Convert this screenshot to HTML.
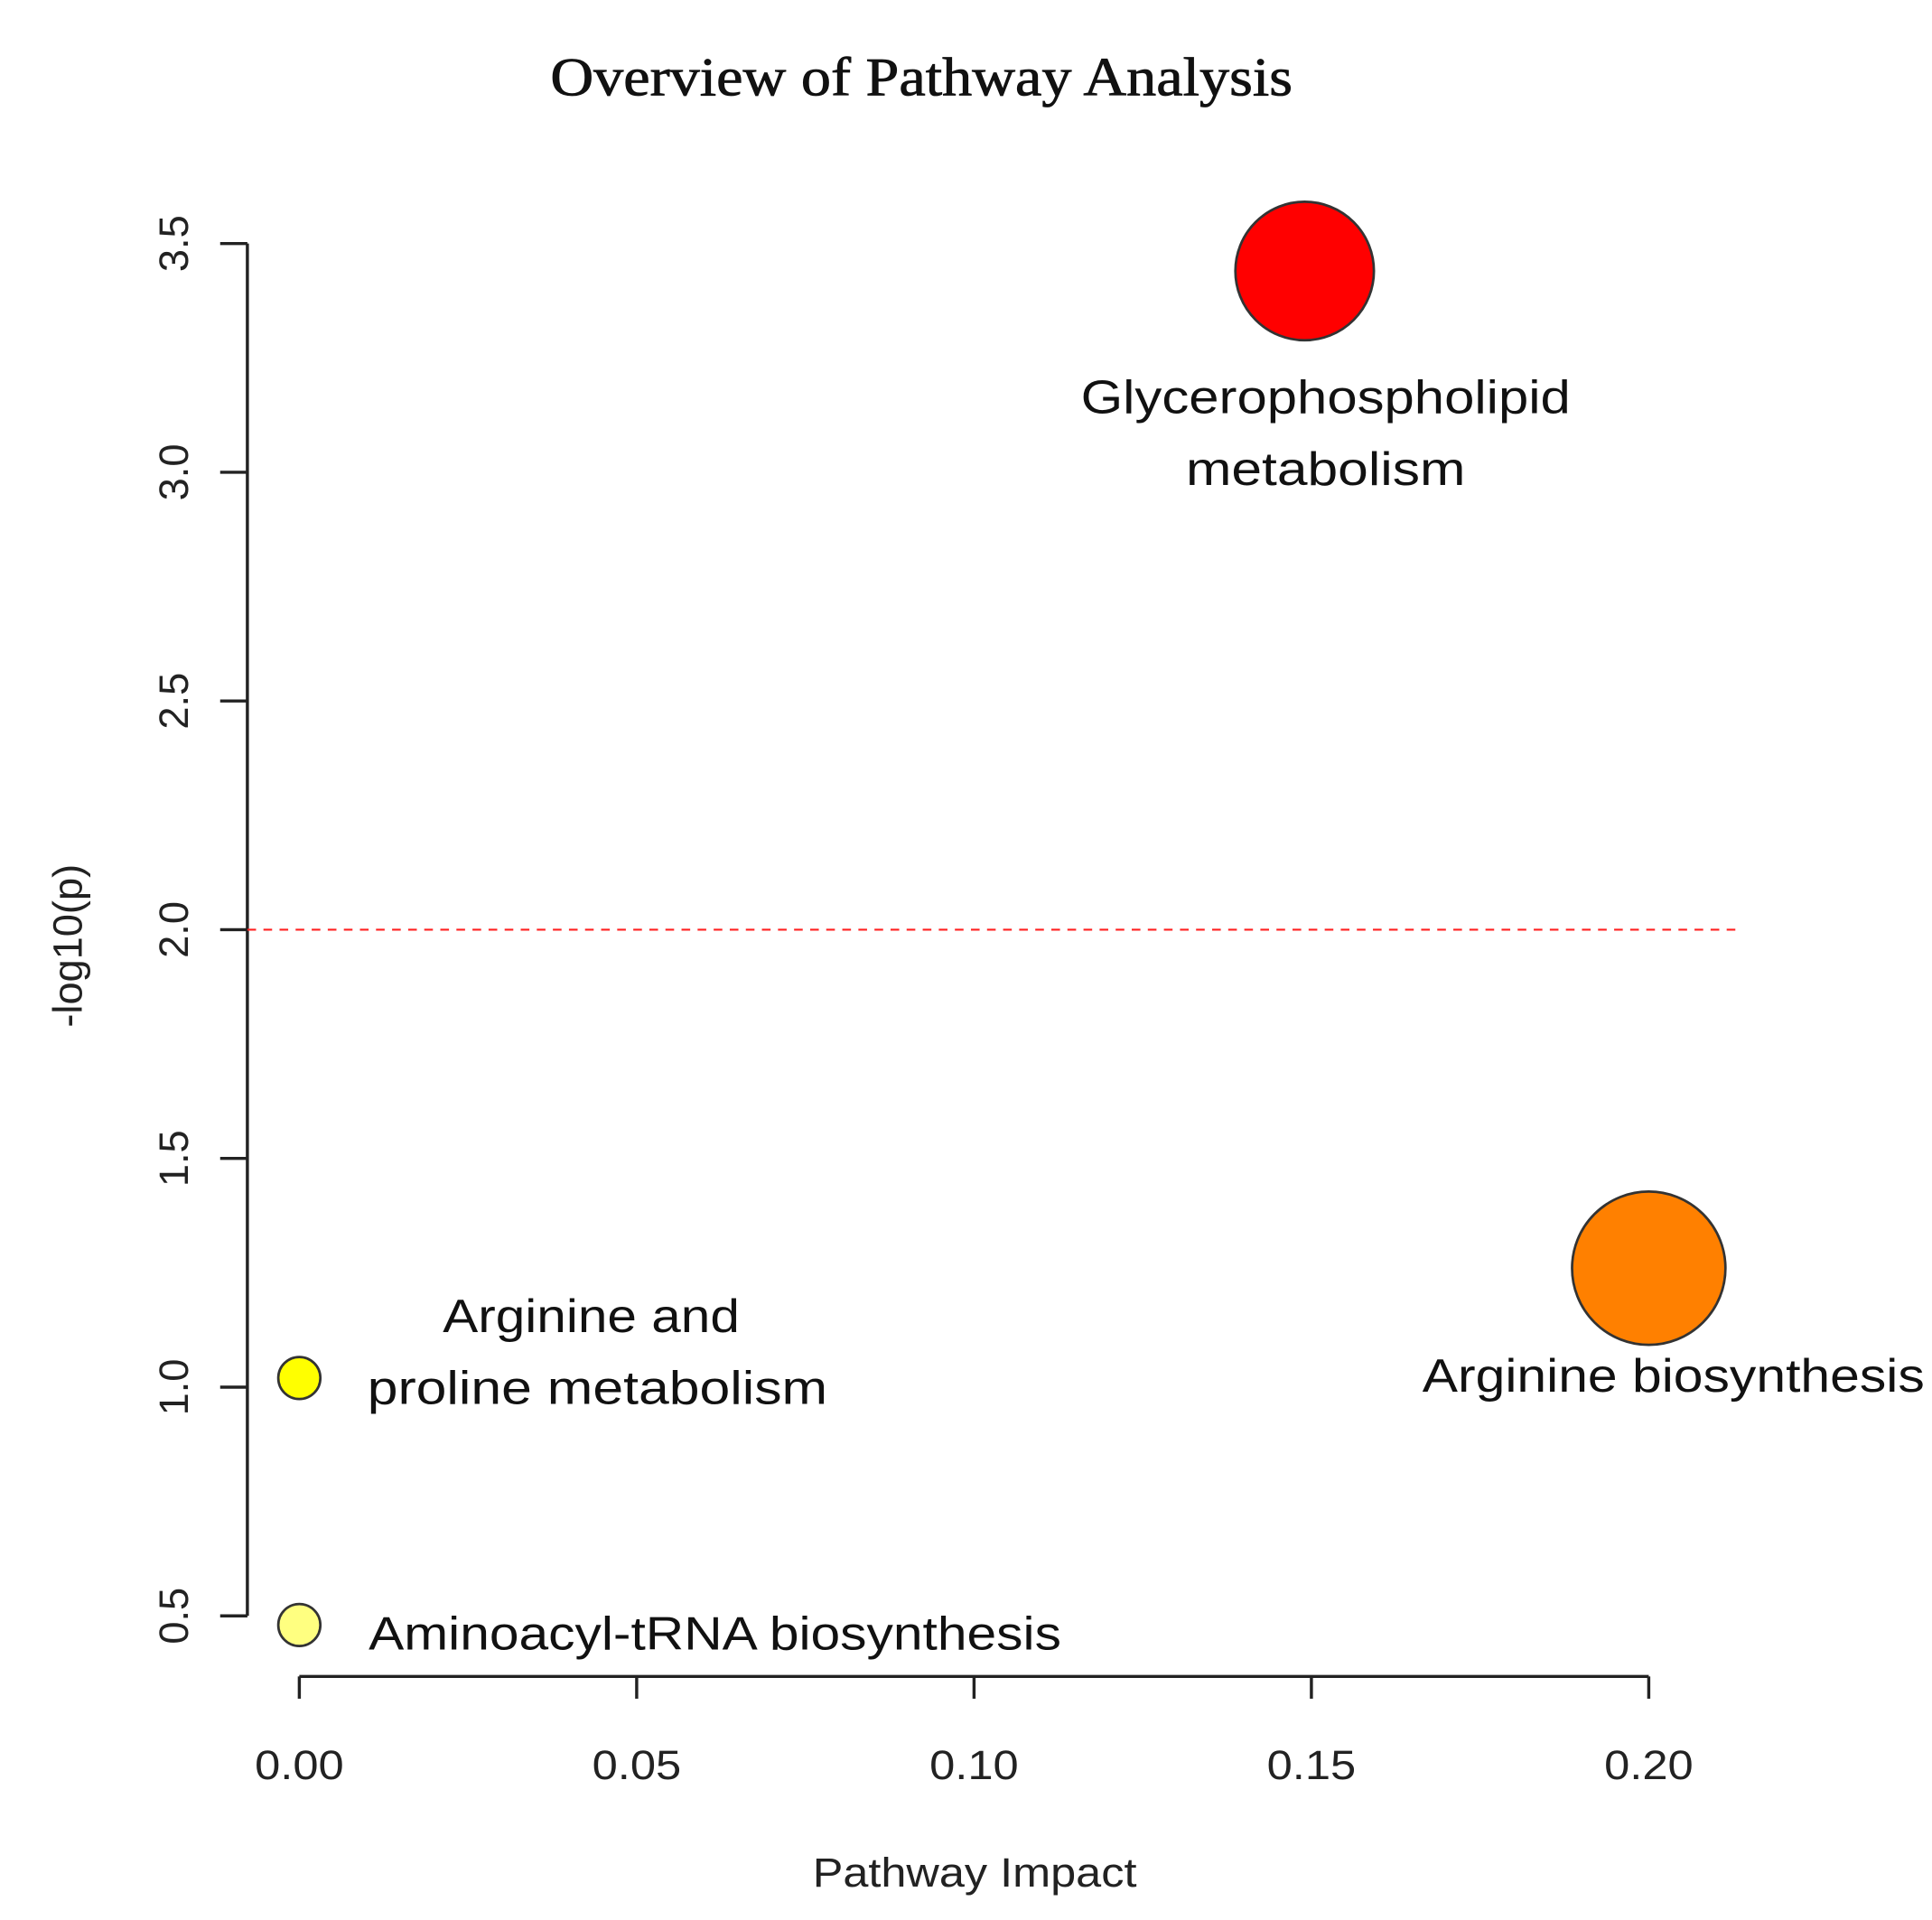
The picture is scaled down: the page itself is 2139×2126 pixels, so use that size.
<!DOCTYPE html>
<html><head><meta charset="utf-8"><style>
html,body{margin:0;padding:0;background:#fff;}
svg{display:block;}
</style></head><body>
<svg id="chart" width="2139" height="2126" viewBox="0 0 1562 1553" preserveAspectRatio="none" xmlns="http://www.w3.org/2000/svg">
<rect width="1562" height="1553" fill="#fff"/>
<text x="745" y="77" text-anchor="middle" font-family="Liberation Serif, serif" font-size="44" fill="#111" stroke="#111" stroke-width="0.6" textLength="600" lengthAdjust="spacingAndGlyphs">Overview of Pathway Analysis</text>
<text x="788" y="1526" text-anchor="middle" font-family="Liberation Sans, sans-serif" font-size="33" fill="#222" textLength="262" lengthAdjust="spacingAndGlyphs">Pathway Impact</text>
<text transform="translate(66,765) rotate(-90)" text-anchor="middle" font-family="Liberation Sans, sans-serif" font-size="33" fill="#222">-log10(p)</text>
<g id="axes"></g>
<g id="marks"></g>
</svg>
<script>
const pathways = ["Glycerophospholipid metabolism","Arginine biosynthesis","Arginine and proline metabolism","Aminoacyl-tRNA biosynthesis"];
const impactValues = [0.149, 0.200, 0.000, 0.000];
const logPValues = [3.44, 1.26, 1.02, 0.48];
const radiusValues = [56, 62, 17, 17];
const fillColors = ["#ff0000","#ff8000","#ffff00","#ffff80"];
const xTicks = [0.00, 0.05, 0.10, 0.15, 0.20];
const xTickLabels = ["0.00","0.05","0.10","0.15","0.20"];
const yTicks = [0.5, 1.0, 1.5, 2.0, 2.5, 3.0, 3.5];
const yTickLabels = ["0.5","1.0","1.5","2.0","2.5","3.0","3.5"];
const threshold = [2.0];

const NS="http://www.w3.org/2000/svg";
function X(v){return 242+(v-0)*(1333-242)/0.2;}
function Y(v){return 1307-(v-0.5)*(1307-197)/3.0;}
function mk(tag,attrs,parent,text){const e=document.createElementNS(NS,tag);for(const k in attrs)e.setAttribute(k,attrs[k]);if(text!==undefined)e.textContent=text;parent.appendChild(e);return e;}
const axes=document.getElementById('axes'), marks=document.getElementById('marks');

let yl=mk('line',{x1:200,x2:200,y1:Y(yTicks[yTicks.length-1]),y2:Y(yTicks[0]),stroke:'#222','stroke-width':2.5},axes);


yTicks.forEach((t,i)=>{
  const l=mk('line',{x1:178,x2:200,y1:Y(t),y2:Y(t),stroke:'#222','stroke-width':2.5},axes);
  
  
  const tx=mk('text',{transform:`translate(152,${Y(t)}) rotate(-90)`,'text-anchor':'middle','font-family':'Liberation Sans, sans-serif','font-size':33,fill:'#222'},axes,yTickLabels[i]);
  
  
});
let xl=mk('line',{x1:X(xTicks[0]),x2:X(xTicks[xTicks.length-1]),y1:1356,y2:1356,stroke:'#222','stroke-width':2.5},axes);


xTicks.forEach((t,i)=>{
  const l=mk('line',{x1:X(t),x2:X(t),y1:1356,y2:1374,stroke:'#222','stroke-width':2.5},axes);
  
  
  const tx=mk('text',{x:X(t),y:1439,'text-anchor':'middle','font-family':'Liberation Sans, sans-serif','font-size':33,fill:'#222',textLength:72,lengthAdjust:'spacingAndGlyphs'},axes,xTickLabels[i]);
  
  
});
threshold.forEach(t=>{
  const l=mk('line',{x1:200,x2:1405,y1:Y(t),y2:Y(t),stroke:'#ff2020','stroke-width':1.6,'stroke-dasharray':'7,6'},axes);
  
  
});
pathways.forEach((p,i)=>{
  const c=mk('circle',{cx:X(impactValues[i]),cy:Y(logPValues[i]),r:radiusValues[i],fill:fillColors[i],stroke:'#333','stroke-width':2},marks);
  
  
});
const lab=[
  {lines:["Glycerophospholipid","metabolism"],dx:17,dy:[115,173],anchor:'middle',w:[396,226]},
  {lines:["Arginine biosynthesis"],dx:20,dy:[100],anchor:'middle',w:[406]},
  {lines:["Arginine and","proline metabolism"],dx:[236,241],dy:[-37,21],anchor:'middle',w:[240,372]},
  {lines:["Aminoacyl-tRNA biosynthesis"],dx:[56],dy:[20],anchor:'start',w:[560]}
];
lab.forEach((L,i)=>{
  L.lines.forEach((s,j)=>{
    const dx=Array.isArray(L.dx)?L.dx[j]:L.dx;
    const t=mk('text',{x:X(impactValues[i])+dx,y:Y(logPValues[i])+L.dy[j],'text-anchor':L.anchor,'font-family':'Liberation Sans, sans-serif','font-size':38,fill:'#111',textLength:L.w[j],lengthAdjust:'spacingAndGlyphs'},marks,s);
    
    
  });
});
</script>
</body></html>
